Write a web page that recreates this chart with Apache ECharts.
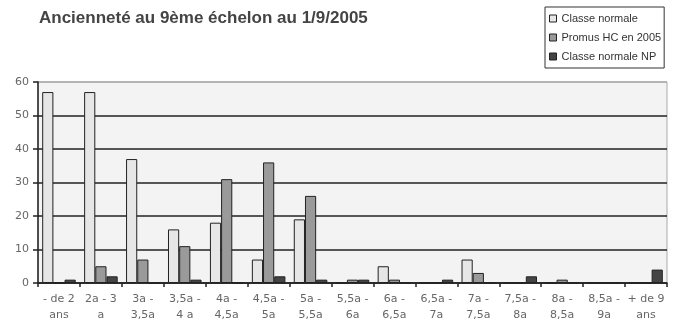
<!DOCTYPE html>
<html><head><meta charset="utf-8">
<script src="https://cdn.jsdelivr.net/npm/echarts@6/dist/echarts.min.js"></script>
<style>html,body{margin:0;padding:0;background:#fff}#c{width:674px;height:323px}</style>
</head><body><div id="c"></div>
<script>
const categories = ["- de 2\nans","2a - 3\na","3a -\n3,5a","3,5a -\n4 a","4a -\n4,5a","4,5a -\n5a","5a -\n5,5a","5,5a -\n6a","6a -\n6,5a","6,5a -\n7a","7a -\n7,5a","7,5a -\n8a","8a -\n8,5a","8,5a -\n9a","+ de 9\nans"];
const classeNormale = [57,57,37,16,18,7,19,0,5,0,7,0,0,0,0];
const promusHC = [0,5,7,11,31,36,26,1,1,0,3,0,1,0,0];
const classeNP = [1,2,0,1,0,2,1,1,0,1,0,2,0,0,4];
const seriesNames = ["Classe normale","Promus HC en 2005","Classe normale NP"];
const yTicks = [0,10,20,30,40,50,60];

const chart = echarts.init(document.getElementById('c'), null, {renderer:'canvas'});
const colors = ['#e6e6e6','#9a9a9a','#454545'];
const data = [classeNormale, promusHC, classeNP];
chart.setOption({
  animation:false,
  backgroundColor:'#fff',
  title:{text:'Ancienneté au 9ème échelon au 1/9/2005', left:34, top:5,
    textStyle:{fontFamily:'Liberation Sans', fontSize:17, fontWeight:'bold', color:'#444'}},
  legend:{orient:'vertical', left:545, top:7, padding:[6,3,6,4],
    borderColor:'#333', borderWidth:1, itemWidth:7, itemHeight:7, itemGap:8,
    icon:'rect',
    textStyle:{fontFamily:'Liberation Sans', fontSize:11, color:'#333'},
    itemStyle:{borderColor:'#222', borderWidth:1},
    data:seriesNames},
  grid:{left:38, right:7, top:82, bottom:40, show:true, backgroundColor:'#f3f3f3', borderColor:'#aaa', borderWidth:1},
  xAxis:{type:'category', data:categories, boundaryGap:true,
    axisLine:{lineStyle:{color:'#222', width:1.5}},
    axisTick:{show:true, interval:0, length:4, lineStyle:{color:'#222', width:1.5}},
    axisLabel:{interval:0, fontFamily:'DejaVu Sans', fontSize:11, color:'#666', lineHeight:16, margin:8}},
  yAxis:{type:'value', min:yTicks[0], max:yTicks[yTicks.length-1], interval:10,
    axisLine:{show:true, lineStyle:{color:'#222', width:1.5}},
    axisTick:{show:true, length:5, lineStyle:{color:'#222', width:1.5}},
    axisLabel:{fontFamily:'DejaVu Sans', fontSize:11, color:'#666', margin:9},
    splitLine:{show:true, lineStyle:{color:['#222','#222','#222','#222','#222','#222','#aaa'], width:1.5}}},
  series:seriesNames.map((n,i)=>({name:n, type:'bar', data:data[i], barGap:'0%', barCategoryGap:'20%',
    itemStyle:{color:colors[i], borderColor:'#222', borderWidth:1}}))
});
</script></body></html>
